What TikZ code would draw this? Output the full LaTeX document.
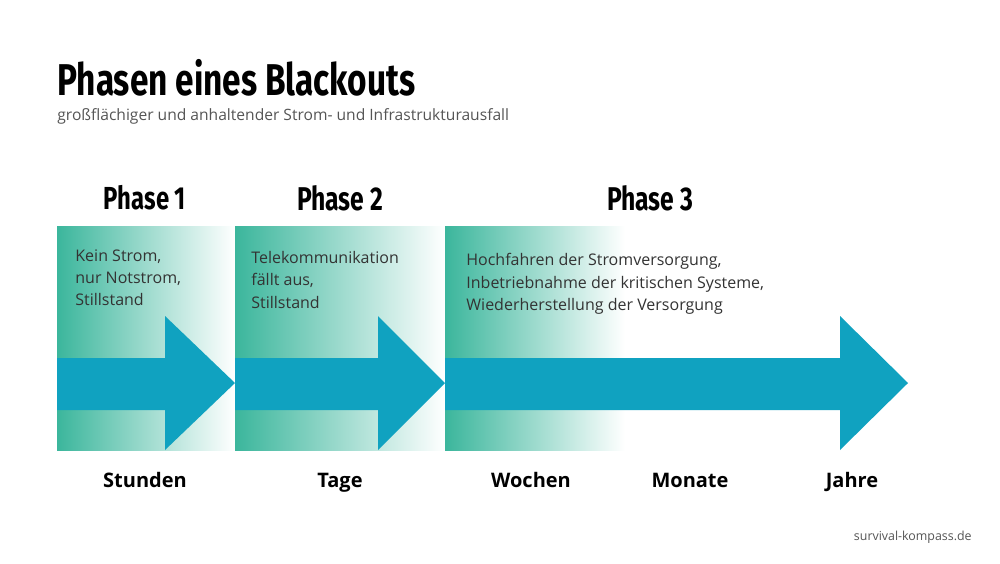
\documentclass[tikz,border=0pt]{standalone}
\usepackage{fontspec}
\setmainfont{Open Sans}
\newfontfamily\headfont{Fira Sans}
\usetikzlibrary{positioning}
\definecolor{mint}{HTML}{3BB69C}
\definecolor{arrowblue}{HTML}{10A2C0}
\definecolor{subgray}{HTML}{555555}
\tikzset{
  phasebox/.style={left color=mint, right color=white, draw=none},
  phasehead/.style={font=\headfont\bfseries, anchor=center},
  boxtext/.style={anchor=north west, align=left, font=\fontsize{8}{11.2}\selectfont, text=black!80, inner sep=0pt},
  timelabel/.style={font=\fontsize{10}{12}\selectfont\bfseries, anchor=base}
}
\newcommand{\headtext}[2]{\resizebox{#1}{!}{#2}}
\begin{document}
\begin{tikzpicture}[x=0.5pt, y=-0.5pt]
  \useasboundingbox[fill=white] (0,0) rectangle (1000,563);
  % Titel
  \node[anchor=west, inner sep=0pt] (title) at (57,78)
    {\headfont\bfseries\headtext{179pt}{\scalebox{0.75}[1]{Phasen eines Blackouts}}};
  \node[anchor=west, inner sep=0pt, text=subgray, font=\fontsize{7.8}{9}\selectfont] (subtitle) at (57,116)
    {großflächiger und anhaltender Strom- und Infrastrukturausfall};
  % Phasen-Kästen
  \shade[phasebox] (57,226) rectangle (235,450);
  \shade[phasebox] (235,226) rectangle (445,450);
  \shade[phasebox] (445,226) rectangle (625,450);
  % Pfeile
  \fill[arrowblue] (57,358) -- (165,358) -- (165,316) -- (235,383) -- (165,450) -- (165,410) -- (57,410) -- cycle;
  \fill[arrowblue] (235,358) -- (378,358) -- (378,316) -- (445,383) -- (378,450) -- (378,410) -- (235,410) -- cycle;
  \fill[arrowblue] (445,358) -- (840,358) -- (840,316) -- (908,383) -- (840,450) -- (840,410) -- (445,410) -- cycle;
  % Überschriften
  \node[phasehead] (phase1) at (145,198) {\headtext{41pt}{\scalebox{0.75}[1]{Phase 1}}};
  \node[phasehead] (phase2) at (340,198) {\headtext{43pt}{\scalebox{0.75}[1]{Phase 2}}};
  \node[phasehead] (phase3) at (650,198) {\headtext{43pt}{\scalebox{0.75}[1]{Phase 3}}};
  % Texte
  \node[boxtext] (text1) at (75,249) {Kein Strom,\\nur Notstrom,\\Stillstand};
  \node[boxtext] (text2) at (251,251) {Telekommunikation\\fällt aus,\\Stillstand};
  \node[boxtext] (text3) at (466,253) {Hochfahren der Stromversorgung,\\Inbetriebnahme der kritischen Systeme,\\Wiederherstellung der Versorgung};
  % Zeitachse
  \node[timelabel] (stunden) at (145,487) {Stunden};
  \node[timelabel] (tage) at (340,487) {Tage};
  \node[timelabel] (wochen) at (531,487) {Wochen};
  \node[timelabel] (monate) at (690,487) {Monate};
  \node[timelabel] (jahre) at (852,487) {Jahre};
  \node[anchor=east, inner sep=0pt, text=subgray, font=\fontsize{6.2}{7}\selectfont] (source) at (972,537) {survival-kompass.de};
\end{tikzpicture}
\end{document}
